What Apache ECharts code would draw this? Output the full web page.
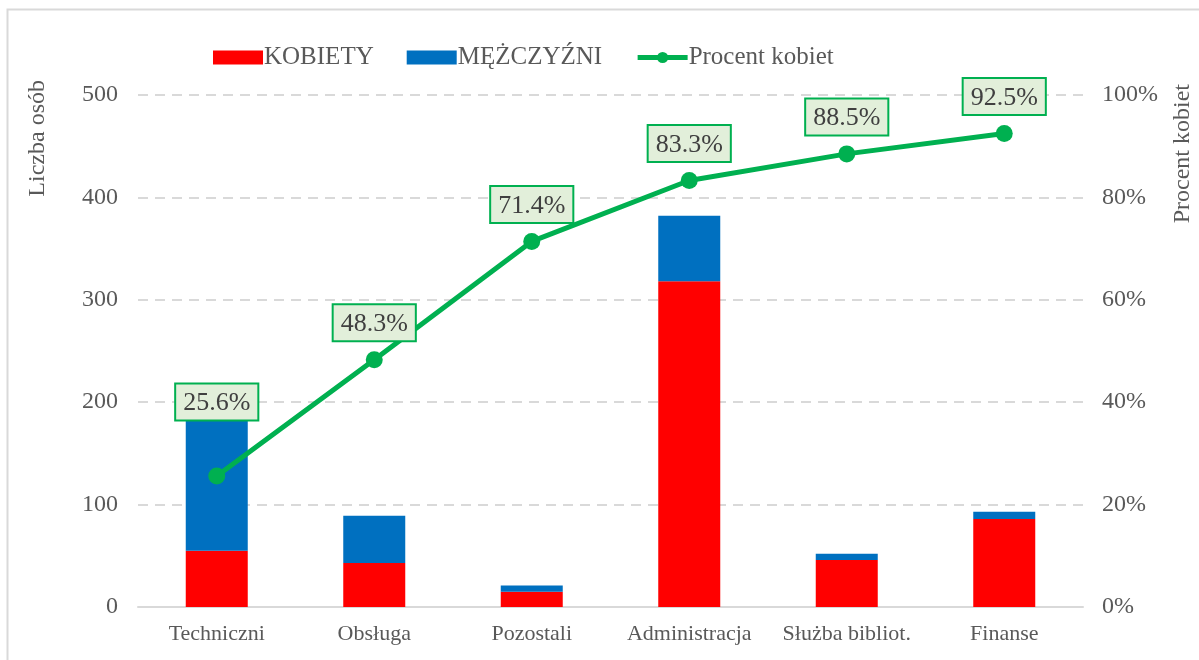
<!DOCTYPE html>
<html>
<head>
<meta charset="utf-8">
<script src="https://cdn.jsdelivr.net/npm/echarts@6/dist/echarts.min.js"></script>
<style>
  html, body { margin: 0; padding: 0; background: #fff; }
  #chart { width: 1199px; height: 660px; }
</style>
</head>
<body>
<div id="chart"></div>
<script>
var categories = ['Techniczni', 'Obsługa', 'Pozostali', 'Administracja', 'Służba bibliot.', 'Finanse'];
var kobiety = [55, 43, 15, 318, 46, 86];
var mezczyzni = [160, 46, 6, 64, 6, 7];
var procent = [25.6, 48.3, 71.4, 83.3, 88.5, 92.5];
var leftTicks = [0, 100, 200, 300, 400, 500];
var rightTicks = [0, 20, 40, 60, 80, 100];

(function(){
  var font = '"Liberation Serif", "Times New Roman", serif';
  var gray = '#595959';
  // pierwsza etykieta przesunięta ręcznie w oryginale
  var labelLift = { 0: 48 };
  var myChart = echarts.init(document.getElementById('chart'));
  var option = {
    animation: false,
    textStyle: { fontFamily: font },
    graphic: [{
      type: 'rect',
      shape: { x: 7.5, y: 9.5, width: 1300, height: 800 },
      style: { fill: 'none', stroke: '#d9d9d9', lineWidth: 2 }
    }, {
      type: 'text',
      x: 26, y: 80,
      rotation: Math.PI / 2,
      style: { text: 'Liczba osób', font: '24px ' + font, fill: gray, align: 'right', verticalAlign: 'top' }
    }, {
      type: 'text',
      x: 1171, y: 84,
      rotation: Math.PI / 2,
      style: { text: 'Procent kobiet', font: '24px ' + font, fill: gray, align: 'right', verticalAlign: 'top' }
    }],
    legend: {
      top: 40,
      left: 208,
      itemGap: 33,
      itemWidth: 50,
      itemHeight: 14,
      textStyle: { fontFamily: font, fontSize: 25, color: gray, padding: [0, 0, 0, -4] },
      data: [
        { name: 'KOBIETY', icon: 'rect' },
        { name: 'MĘŻCZYŹNI', icon: 'rect' },
        { name: 'Procent kobiet', itemStyle: { color: '#00b050' }, lineStyle: { width: 5, color: '#00b050' } }
      ]
    },
    grid: { left: 138, right: 116, top: 95, bottom: 53, outerBoundsMode: 'none' },
    xAxis: {
      type: 'category',
      data: categories,
      axisTick: { show: false },
      axisLine: { lineStyle: { color: '#d9d9d9', width: 2 } },
      axisLabel: { fontFamily: font, fontSize: 22, color: gray, margin: 16, interval: 0 }
    },
    yAxis: [{
      type: 'value',
      min: leftTicks[0],
      max: leftTicks[leftTicks.length - 1],
      interval: 100,
      axisLabel: { fontFamily: font, fontSize: 24, color: gray, margin: 20 },
      axisLine: { show: false },
      axisTick: { show: false },
      splitLine: { lineStyle: { color: '#d9d9d9', type: [10, 7], width: 2 } }
    }, {
      type: 'value',
      min: rightTicks[0],
      max: rightTicks[rightTicks.length - 1],
      interval: 20,
      axisLabel: { fontFamily: font, fontSize: 24, color: gray, margin: 19, formatter: '{value}%' },
      axisLine: { show: false },
      axisTick: { show: false },
      splitLine: { show: false }
    }],
    series: [{
      name: 'KOBIETY',
      type: 'bar',
      stack: 'a',
      barWidth: 62,
      itemStyle: { color: '#ff0000' },
      data: kobiety
    }, {
      name: 'MĘŻCZYŹNI',
      type: 'bar',
      stack: 'a',
      itemStyle: { color: '#0070c0' },
      data: mezczyzni
    }, {
      name: 'Procent kobiet',
      type: 'line',
      yAxisIndex: 1,
      symbol: 'circle',
      symbolSize: 17,
      lineStyle: { color: '#00b050', width: 5 },
      itemStyle: { color: '#00b050' },
      label: {
        show: true,
        position: 'top',
        distance: 11,
        formatter: function (p) { return p.value.toFixed(1) + '%'; },
        fontFamily: font,
        fontSize: 26,
        color: '#404040',
        backgroundColor: '#e2efda',
        borderColor: '#00b050',
        borderWidth: 2,
        padding: [6, 7, 3, 7]
      },
      data: procent.map(function (v, i) {
        return labelLift[i] ? { value: v, label: { distance: labelLift[i] } } : v;
      })
    }]
  };
  myChart.setOption(option);
}());
</script>
</body>
</html>
